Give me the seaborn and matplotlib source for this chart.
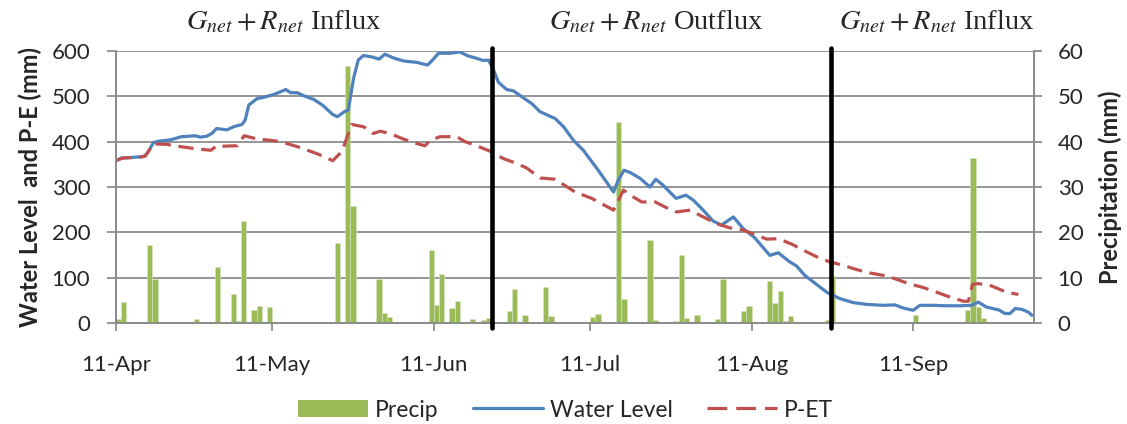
import pandas as pd
import matplotlib
matplotlib.use("Agg")
import matplotlib.pyplot as plt
import matplotlib.dates as mdates
from matplotlib.patches import Patch
from matplotlib.lines import Line2D
import seaborn as sns

# ---------------------------------------------------------------- data
start = pd.Timestamp("2011-04-11")

# daily precipitation (days after start, mm)
precip_day = [0, 1, 2, 6, 7, 15, 19, 22, 23, 24, 26, 27, 29, 42, 44, 45,
              50, 51, 52, 59, 60, 61, 62, 64, 65, 68, 70, 71, 75, 76, 78,
              82, 83, 91, 92, 96, 97, 102, 103, 105, 107, 108, 109, 111,
              115, 116, 120, 121, 125, 126, 127, 128, 129, 136, 137, 153,
              163, 164, 165, 166]
precip_mm = [0.8, 4.6, 0.2, 17.2, 9.8, 0.8, 12.4, 6.5, 0.4, 22.4, 2.8, 3.7,
             3.5, 17.7, 56.7, 25.9, 9.8, 2.2, 1.3, 0.2, 16.0, 3.9, 10.9, 3.2,
             4.8, 0.8, 0.6, 1.2, 2.6, 7.4, 1.8, 8.0, 1.5, 1.3, 2.0, 44.4,
             5.2, 18.3, 0.7, 0.1, 0.4, 15.1, 1.0, 1.7, 0.8, 9.7, 2.6, 3.8,
             9.2, 4.5, 7.0, 0.4, 1.5, 0.7, 10.3, 1.8, 2.8, 36.3, 3.5, 1.1]

# water level (days after start, mm)
level_day = [0.1, 1.1, 2.7, 5.3, 6.0, 7.2, 8.2, 10.4, 12.6, 15.2, 16.2, 17.4,
             18.4, 19.3, 21.3, 22.6, 24.2, 24.8, 25.5, 27.1, 28.4, 30.3,
             32.6, 33.5, 34.8, 36.1, 38.0, 39.6, 41.6, 42.5, 43.8, 44.6,
             45.6, 46.5, 47.5, 49.1, 50.5, 51.6, 53.2, 55.2, 57.7, 59.8,
             60.6, 61.9, 64.1, 66.0, 67.6, 69.2, 70.5, 71.5, 72.4, 73.4,
             75.0, 76.3, 77.9, 79.8, 81.4, 84.3, 85.9, 87.8, 89.7, 92.3,
             95.5, 96.4, 97.5, 98.7, 100.6, 102.5, 103.6, 105.0, 107.5,
             109.4, 110.8, 112.7, 114.6, 116.2, 118.5, 120.4, 122.6, 125.5,
             127.1, 129.3, 130.6, 132.2, 133.8, 136.4, 138.9, 141.5, 144.1,
             147.3, 149.5, 151.1, 153.0, 154.3, 156.9, 159.4, 162.0, 164.2,
             165.5, 167.1, 169.4, 170.6, 171.6, 172.6, 173.9, 175.1, 175.8]
level_mm = [359, 364, 365, 367, 374, 398, 401, 404, 411, 413, 410, 412,
            418, 429, 426, 433, 438, 448, 481, 495, 498, 504,
            515, 508, 508, 501, 493, 481, 460, 455, 466, 470,
            540, 580, 590, 587, 582, 593, 585, 578, 575, 569,
            578, 595, 595, 598, 589, 584, 579, 580, 560, 531,
            515, 512, 499, 484, 466, 451, 433, 403, 381, 341,
            289, 315, 337, 332, 319, 300, 317, 304, 275,
            282, 271, 249, 225, 216, 234, 208, 188, 149,
            155, 135, 126, 105, 91, 68, 54, 45, 41,
            39, 40, 33, 28, 39, 39, 38, 38, 39,
            46, 35, 29, 21, 21, 32, 30, 24, 17]

# precipitation minus evapotranspiration (days after start, mm)
pet_day = [0.1, 1.4, 4.0, 5.6, 7.2, 9.8, 12.4, 15.6, 18.2, 19.5, 20.4, 23.3,
           24.6, 27.1, 29.7, 31.6, 34.8, 38.0, 40.0, 41.6, 43.4, 45.2,
           47.5, 49.4, 50.7, 52.6, 55.1, 57.7, 59.3, 60.3, 62.2, 65.4,
           67.0, 69.2, 71.8, 74.3, 76.9, 78.8, 81.4, 84.3, 88.1, 91.3,
           95.5, 97.4, 99.0, 100.9, 103.5, 105.7, 107.6, 110.2, 112.7,
           115.3, 117.8, 120.4, 122.2, 124.9, 127.1, 129.7, 132.2, 134.5,
           136.7, 139.6, 141.8, 144.4, 147.3, 149.2, 152.1, 155.0, 157.5,
           160.1, 162.7, 163.6, 164.4, 165.5, 168.0, 170.9, 173.2]
pet_mm = [359, 364, 365, 368, 395, 394, 389, 384, 381, 392, 390, 391,
          413, 406, 403, 400, 389, 376, 367, 358, 379, 438,
          433, 418, 423, 418, 406, 396, 391, 403, 411, 411,
          400, 391, 379, 363, 352, 342, 320, 317, 289, 275,
          249, 293, 280, 267, 267, 254, 245, 249, 234,
          219, 210, 205, 197, 185, 186, 174, 159, 146,
          136, 127, 119, 111, 105, 99, 87, 78, 68,
          57, 48, 48, 85, 87, 82, 68, 63]

# boundaries between flux regimes (days after start)
phase_breaks = [72.1, 137.2]
phase_titles = [r"$G_{net}+R_{net}$ Influx",
                r"$G_{net}+R_{net}$ Outflux",
                r"$G_{net}+R_{net}$ Influx"]
month_ticks = ["2011-04-11", "2011-05-11", "2011-06-11",
               "2011-07-11", "2011-08-11", "2011-09-11"]

# ---------------------------------------------------------------- style
sns.set_style("white")
plt.rcParams["font.family"] = ["Lato", "DejaVu Sans"]
plt.rcParams["mathtext.fontset"] = "stix"

GREEN, BLUE, RED = "#9BBB59", "#4F81BD", "#C0504D"
GRID = "#8C8C8C"

fig = plt.figure(figsize=(11.27, 4.24), dpi=100)
ax = fig.add_axes([0.1029, 0.2382, 0.8146, 0.6415])
ax2 = ax.twinx()
# lines in front of the precipitation bars
ax.set_zorder(ax2.get_zorder() + 1)
ax.patch.set_visible(False)

days = lambda d: start + pd.to_timedelta(d, unit="D")

precip = pd.DataFrame({"date": days(precip_day), "mm": precip_mm})
level = pd.DataFrame({"date": days(level_day), "mm": level_mm})
pet = pd.DataFrame({"date": days(pet_day), "mm": pet_mm})

ax2.bar(precip["date"], precip["mm"], width=1.0, align="edge",
        color=GREEN, edgecolor="#d9e6c3", linewidth=0.4)

sns.lineplot(data=level, x="date", y="mm", ax=ax, color=BLUE, lw=2.3,
             legend=False)
sns.lineplot(data=pet, x="date", y="mm", ax=ax, color=RED, lw=2.3,
             legend=False)
ax.lines[-1].set_dashes([4.8, 2.4])

for d in phase_breaks:
    ax.axvline(days(d), ymin=-0.018, ymax=1.011, color="black", lw=3.3,
               clip_on=False, zorder=5)

# ---------------------------------------------------------------- axes
ax.set_xlim(start, days(176.2))
ax.set_ylim(0, 600)
ax2.set_ylim(0, 60)
ax.set_yticks(range(0, 601, 100))
ax2.set_yticks(range(0, 61, 10))
ax.set_xticks(pd.to_datetime(month_ticks))
ax.xaxis.set_major_formatter(mdates.DateFormatter("%d-%b"))

ax.grid(False)
ax2.grid(False)
ax2.yaxis.grid(True, color=GRID, lw=1.3)
ax2.set_axisbelow(True)

for a in (ax, ax2):
    for side, sp in a.spines.items():
        sp.set_color(GRID)
        sp.set_linewidth(1.3)
    a.spines["top"].set_visible(False)

ax.tick_params(axis="y", left=True, direction="out", length=6.5, width=1.3,
               color=GRID, labelsize=16, pad=12)
ax.tick_params(axis="x", bottom=True, direction="out", length=6, width=1.3,
               color=GRID, labelsize=16, pad=17)
ax2.tick_params(axis="y", right=True, direction="out", length=6, width=1.3,
                color=GRID, labelsize=16, pad=11)

ax.set_xlabel("")
ax.set_ylabel("Water Level  and P-E (mm)", fontsize=17, fontweight="bold")
ax.yaxis.set_label_coords(-0.081, 0.5)
ax2.set_ylabel("Precipitation (mm)", fontsize=17, fontweight="bold")
ax2.yaxis.set_label_coords(1.07, 0.5)

for xc, t in zip([0.252, 0.582, 0.831], phase_titles):
    fig.text(xc, 0.948, t, ha="center", va="center", fontsize=20.5,
             family="Liberation Serif")

handles = [Patch(facecolor=GREEN, edgecolor="none"),
           Line2D([], [], color=BLUE, lw=2.3),
           Line2D([], [], color=RED, lw=2.3, dashes=[6.2, 2.8])]
fig.legend(handles, ["Precip", "Water Level", "P-ET"], loc="center",
           bbox_to_anchor=(0.502, 0.033), ncol=3, frameon=False,
           fontsize=16.5, handlelength=3.05, handletextpad=0.3,
           columnspacing=1.5)

fig.savefig("out.png", dpi=100)
